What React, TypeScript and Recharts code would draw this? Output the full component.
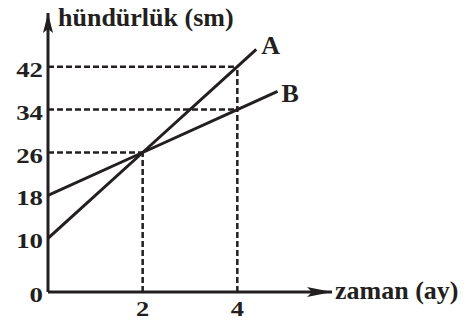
import { LineChart, Line, XAxis, YAxis, ReferenceLine, ReferenceDot } from "recharts";

// plant height (sm) against time (months)
const monthsA = [0, 2, 4, 4.4];
const heightA = [10, 26, 42, 45.2];
const monthsB = [0, 2, 4, 4.85];
const heightB = [18, 26, 34, 37.4];

const xTicks = [2, 4];
const yTicks = [0, 10, 18, 26, 34, 42];

// dashed guides: horizontal ones run from the y axis to the month, vertical ones from 0 up
const guideHeights = [42, 34, 26];
const guideMonths = [4, 4, 2];
const dropMonths = [2, 4];
const dropHeights = [26, 42];

const INK = "#231f20";
const SERIF = '"Liberation Serif", "Times New Roman", serif';

const dataA = monthsA.map((m, i) => ({ x: m, y: heightA[i] }));
const dataB = monthsB.map((m, i) => ({ x: m, y: heightB[i] }));

const YTick = (props: any) => {
  const { x, y, payload } = props;
  return (
    <g transform={`translate(${x},${y + 10}) scale(1.22,1)`}>
      <text x={0} y={0} textAnchor="end" fill={INK} fontFamily={SERIF} fontWeight="bold" fontSize={22}>
        {payload.value}
      </text>
    </g>
  );
};

const XTick = (props: any) => {
  const { x, y, payload } = props;
  return (
    <g transform={`translate(${x},${y + 24}) scale(1.2,1)`}>
      <text x={0} y={0} textAnchor="middle" fill={INK} fontFamily={SERIF} fontWeight="bold" fontSize={22}>
        {payload.value}
      </text>
    </g>
  );
};

const label = (text: string, dx: number, dy: number) => (p: any) => (
  <text x={p.cx + dx} y={p.cy + dy} fill={INK} fontFamily={SERIF} fontWeight="bold" fontSize={26}>
    {text}
  </text>
);

const arrowRight = (p: any) => (
  <path
    d={`M${p.cx},${p.cy} L${p.cx - 25},${p.cy - 5} L${p.cx - 20},${p.cy} L${p.cx - 25},${p.cy + 5} Z`}
    fill={INK}
  />
);

const arrowUp = (p: any) => (
  <path
    d={`M${p.cx},${p.cy} L${p.cx - 5},${p.cy + 20} L${p.cx},${p.cy + 16} L${p.cx + 5},${p.cy + 20} Z`}
    fill={INK}
  />
);

export default function App() {
  const lastA = dataA[dataA.length - 1];
  const lastB = dataB[dataB.length - 1];
  return (
    <div style={{ position: "absolute", left: 0, top: 0, background: "#fff" }}>
      <LineChart width={474} height={320} margin={{ top: 13, right: 142, bottom: 0, left: 0 }}>
        <XAxis
          dataKey="x"
          type="number"
          domain={[0, 6]}
          ticks={xTicks}
          interval={0}
          allowDataOverflow
          height={28}
          tickSize={0}
          tickMargin={0}
          tickLine={false}
          axisLine={{ stroke: INK, strokeWidth: 3 }}
          tick={<XTick />}
        />
        <YAxis
          dataKey="y"
          type="number"
          domain={[0, 52]}
          ticks={yTicks}
          interval={0}
          allowDataOverflow
          width={48}
          tickSize={0}
          tickMargin={5}
          tickLine={false}
          axisLine={{ stroke: INK, strokeWidth: 3 }}
          tick={<YTick />}
        />

        {guideHeights.map((h, i) => (
          <ReferenceLine
            key={"h" + i}
            segment={[{ x: 0, y: h }, { x: guideMonths[i], y: h }]}
            stroke={INK}
            strokeWidth={2.5}
            strokeDasharray="6 3"
          />
        ))}
        {dropMonths.map((m, i) => (
          <ReferenceLine
            key={"v" + i}
            segment={[{ x: m, y: 0 }, { x: m, y: dropHeights[i] }]}
            stroke={INK}
            strokeWidth={2.5}
            strokeDasharray="6 3"
          />
        ))}

        <Line data={dataA} dataKey="y" stroke={INK} strokeWidth={3} dot={false} isAnimationActive={false} />
        <Line data={dataB} dataKey="y" stroke={INK} strokeWidth={3} dot={false} isAnimationActive={false} />

        <ReferenceDot x={6} y={0} ifOverflow="visible" shape={arrowRight} />
        <ReferenceDot x={0} y={52} ifOverflow="visible" shape={arrowUp} />
        <ReferenceDot x={0} y={52} ifOverflow="visible" shape={label("hündürlük (sm)", 10, 13)} />
        <ReferenceDot x={6} y={0} ifOverflow="visible" shape={label("zaman (ay)", 3, 7)} />
        <ReferenceDot x={lastA.x} y={lastA.y} ifOverflow="visible" shape={label("A", 5, 5)} />
        <ReferenceDot x={lastB.x} y={lastB.y} ifOverflow="visible" shape={label("B", 4, 11)} />
      </LineChart>
    </div>
  );
}
